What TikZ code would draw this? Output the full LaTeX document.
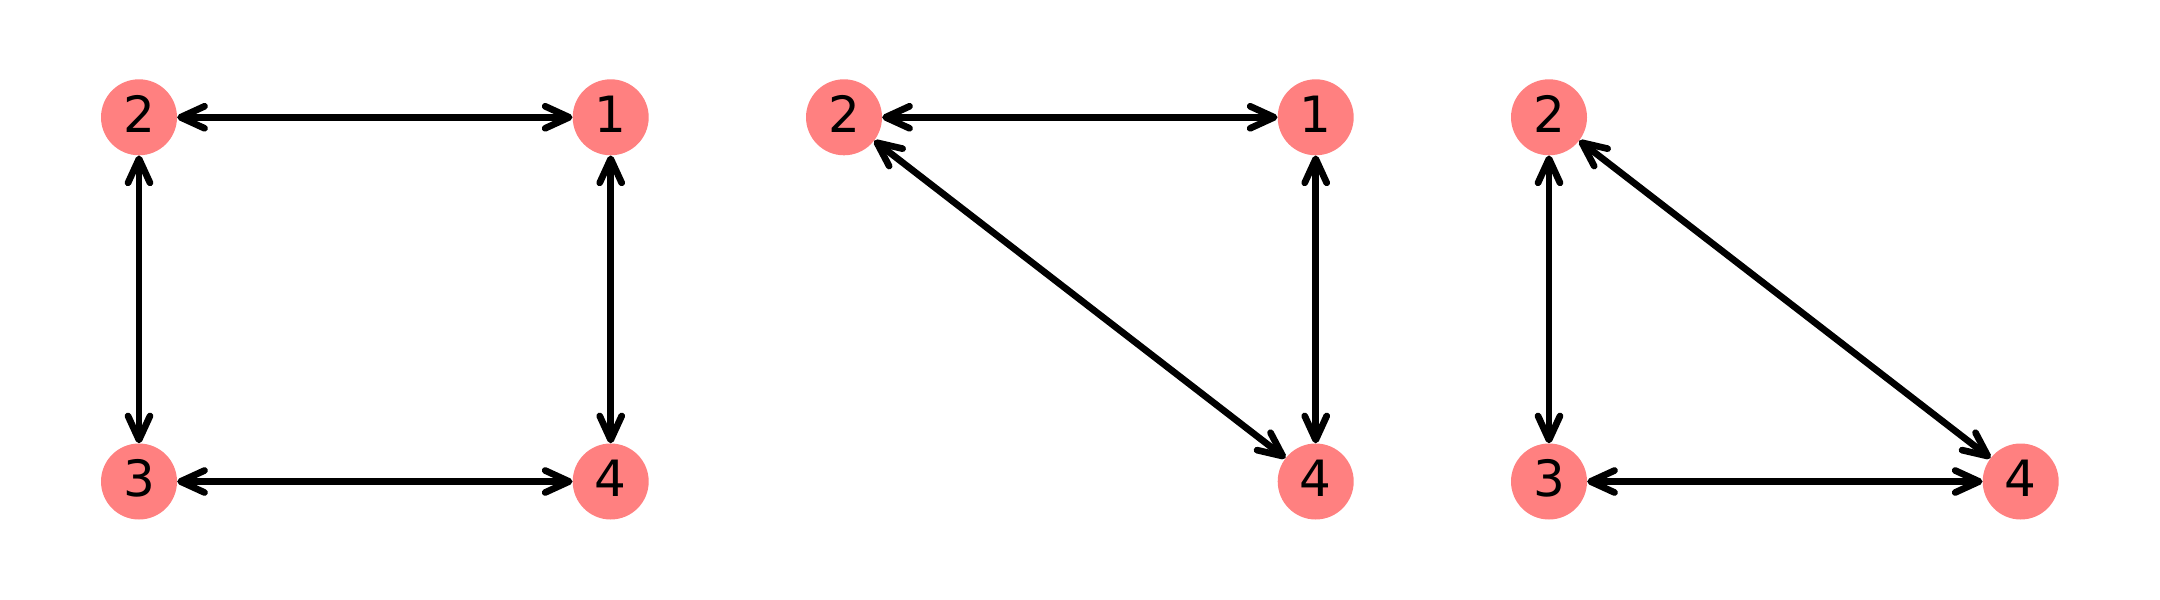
\documentclass[tikz,border=0pt]{standalone}
\usepackage{fontspec}
\setmainfont{DejaVu Sans}
\usetikzlibrary{arrows.meta}
\definecolor{nodefill}{HTML}{FF8080}
\tikzset{
  vertex/.style={circle, fill=nodefill, inner sep=0pt, minimum size=76bp,
    font=\fontsize{50bp}{60bp}\selectfont, text height=36.5bp, text depth=6bp},
  link/.style={line width=6.7bp, line cap=round,
    {Straight Barb[length=24bp, width=22bp, round]}-{Straight Barb[length=24bp, width=22bp, round]}}
}
\begin{document}
\begin{tikzpicture}[x=1bp, y=-1bp]
\useasboundingbox (0,0) rectangle (2160,600);
% panel 1
\node[vertex] (a2) at (139,117.3) {2};
\node[vertex] (a1) at (610.7,117.3) {1};
\node[vertex] (a3) at (139,481.5) {3};
\node[vertex] (a4) at (610.7,481.5) {4};
\draw[link] (a2) -- (a1);
\draw[link] (a2) -- (a3);
\draw[link] (a1) -- (a4);
\draw[link] (a3) -- (a4);
% panel 2
\node[vertex] (b2) at (844,117.3) {2};
\node[vertex] (b1) at (1315.7,117.3) {1};
\node[vertex] (b4) at (1315.7,481.5) {4};
\draw[link] (b2) -- (b1);
\draw[link] (b1) -- (b4);
\draw[link] (b2) -- (b4);
% panel 3
\node[vertex] (c2) at (1549,117.3) {2};
\node[vertex] (c3) at (1549,481.5) {3};
\node[vertex] (c4) at (2020.7,481.5) {4};
\draw[link] (c2) -- (c3);
\draw[link] (c3) -- (c4);
\draw[link] (c2) -- (c4);
\end{tikzpicture}
\end{document}
